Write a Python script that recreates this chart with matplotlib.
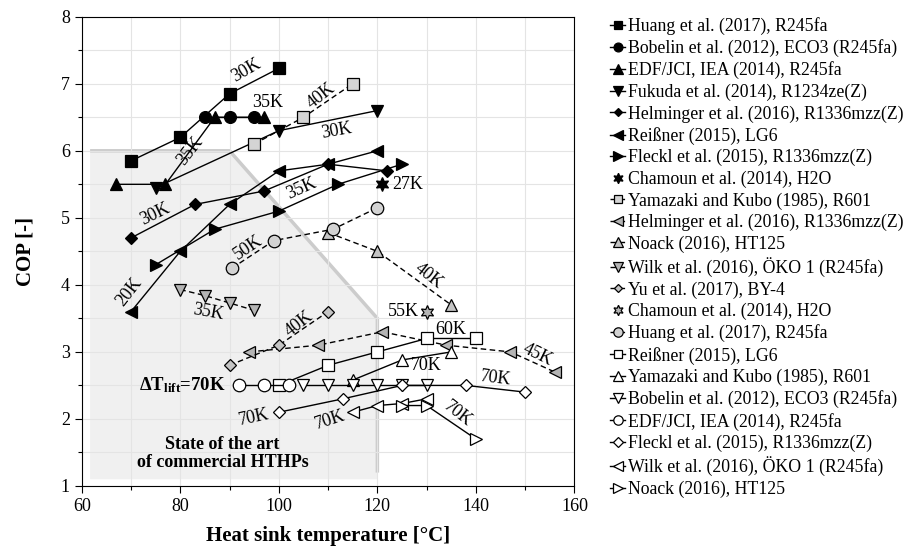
import matplotlib
matplotlib.use("Agg")
import matplotlib.pyplot as plt

# ---------------- data ----------------
# filled black series (solid lines)
huang_x = [70, 80, 90, 100];            huang_y = [5.85, 6.2, 6.85, 7.23]
bobelin_x = [85, 90, 95];               bobelin_y = [6.5, 6.5, 6.5]
edf_x = [67, 77, 87, 97];               edf_y = [5.5, 5.5, 6.5, 6.5]
fukuda_x = [75, 100, 120];              fukuda_y = [5.45, 6.3, 6.6]
helm_x = [70, 83, 97, 110, 122];        helm_y = [4.7, 5.2, 5.4, 5.8, 5.7]
reiss_x = [70, 80, 90, 100, 110, 120];  reiss_y = [3.6, 4.5, 5.2, 5.7, 5.8, 6.0]
fleckl_x = [75, 87, 100, 112, 125];     fleckl_y = [4.3, 4.83, 5.1, 5.5, 5.8]
chamoun_x = [121];                      chamoun_y = [5.5]
# gray series (dashed lines)
yama_g_x = [95, 105, 115];              yama_g_y = [6.1, 6.5, 7.0]
helm_g_x = [94, 108, 121, 134, 147, 156]; helm_g_y = [3.0, 3.1, 3.3, 3.1, 3.0, 2.7]
noack_g_x = [110, 120, 135];            noack_g_y = [4.78, 4.5, 3.7]
wilk_g_x = [80, 85, 90, 95];            wilk_g_y = [3.93, 3.84, 3.73, 3.62]
yu_g_x = [90, 100, 110];                yu_g_y = [2.8, 3.1, 3.6]
chamoun_g_x = [130];                    chamoun_g_y = [3.6]
huang_g_x = [90.5, 99, 111, 120];       huang_g_y = [4.25, 4.66, 4.83, 5.15]
# white series (solid lines, dT_lift = 70K)
reiss_w_x = [100, 110, 120, 130, 140];  reiss_w_y = [2.5, 2.8, 3.0, 3.2, 3.2]
yama_w_x = [115, 125, 135];             yama_w_y = [2.58, 2.88, 3.0]
bobelin_w_x = [105, 110, 115, 120, 125, 130]; bobelin_w_y = [2.5, 2.5, 2.5, 2.5, 2.5, 2.5]
edf_w_x = [92, 97, 102];                edf_w_y = [2.5, 2.5, 2.5]
fleckl_w_x = [100, 113, 125, 138, 150]; fleckl_w_y = [2.1, 2.3, 2.5, 2.5, 2.4]
wilk_w_x = [115, 120, 125, 130];        wilk_w_y = [2.1, 2.2, 2.23, 2.3]
noack_w_x = [125, 130, 140];            noack_w_y = [2.2, 2.2, 1.7]

labels = [
    "Huang et al. (2017), R245fa",
    "Bobelin et al. (2012), ECO3 (R245fa)",
    "EDF/JCI, IEA (2014), R245fa",
    "Fukuda et al. (2014), R1234ze(Z)",
    "Helminger et al. (2016), R1336mzz(Z)",
    "Reißner (2015), LG6",
    "Fleckl et al. (2015), R1336mzz(Z)",
    "Chamoun et al. (2014), H2O",
    "Yamazaki and Kubo (1985), R601",
    "Helminger et al. (2016), R1336mzz(Z)",
    "Noack (2016), HT125",
    "Wilk et al. (2016), ÖKO 1 (R245fa)",
    "Yu et al. (2017), BY-4",
    "Chamoun et al. (2014), H2O",
    "Huang et al. (2017), R245fa",
    "Reißner (2015), LG6",
    "Yamazaki and Kubo (1985), R601",
    "Bobelin et al. (2012), ECO3 (R245fa)",
    "EDF/JCI, IEA (2014), R245fa",
    "Fleckl et al. (2015), R1336mzz(Z)",
    "Wilk et al. (2016), ÖKO 1 (R245fa)",
    "Noack (2016), HT125",
]

# temperature-lift annotations: text, x, y, rotation
lift_labels = [
    ("30K", 93.3, 7.2, 30), ("35K", 97.8, 6.72, 0), ("35K", 82.0, 6.0, 52),
    ("40K", 108.5, 6.82, 38), ("30K", 111.7, 6.3, 10), ("30K", 74.8, 5.06, 26),
    ("20K", 69.6, 3.9, 52), ("35K", 104.6, 5.43, 24), ("27K", 126.2, 5.5, 0),
    ("50K", 93.8, 4.56, 34), ("35K", 85.7, 3.59, -10), ("40K", 104.1, 3.42, 38),
    ("40K", 130.4, 4.13, -38), ("55K", 125.2, 3.6, 0), ("60K", 134.9, 3.34, 0),
    ("45K", 152.6, 2.96, -26), ("70K", 129.9, 2.8, 0), ("70K", 144.1, 2.6, -7),
    ("70K", 136.4, 2.08, -38), ("70K", 95.0, 2.03, 12), ("70K", 110.5, 1.99, 18),
]

# ---------------- style ----------------
plt.rcParams['font.family'] = ['Liberation Serif', 'DejaVu Serif']
plt.rcParams['mathtext.fontset'] = 'custom'
plt.rcParams['mathtext.rm'] = 'Liberation Serif'
plt.rcParams['mathtext.bf'] = 'Liberation Serif:bold'
plt.rcParams['mathtext.it'] = 'Liberation Serif:italic'

fig = plt.figure(figsize=(9.11, 5.5), dpi=100)
ax = fig.add_axes([0.0897, 0.1164, 0.5409, 0.8532])

GRAY = '#c4c4c4'
DGRAY = '#b4b4b4'
lw = 1.0
dash = (0, (4, 2.5))

series = [
    (huang_x, huang_y, 's', 'black', '-', 8),
    (bobelin_x, bobelin_y, 'o', 'black', '-', 8.5),
    (edf_x, edf_y, '^', 'black', '-', 9),
    (fukuda_x, fukuda_y, 'v', 'black', '-', 9),
    (helm_x, helm_y, 'D', 'black', '-', 6),
    (reiss_x, reiss_y, '<', 'black', '-', 9),
    (fleckl_x, fleckl_y, '>', 'black', '-', 9),
    (chamoun_x, chamoun_y, (6, 1, 0), 'black', 'none', 10),
    (yama_g_x, yama_g_y, 's', '#d4d4d4', dash, 8.5),
    (helm_g_x, helm_g_y, '<', DGRAY, dash, 9),
    (noack_g_x, noack_g_y, '^', GRAY, dash, 9),
    (wilk_g_x, wilk_g_y, 'v', DGRAY, dash, 9),
    (yu_g_x, yu_g_y, 'D', GRAY, dash, 6),
    (chamoun_g_x, chamoun_g_y, (6, 1, 0), DGRAY, 'none', 10),
    (huang_g_x, huang_g_y, 'o', '#d2d2d2', dash, 9),
    (reiss_w_x, reiss_w_y, 's', 'white', '-', 8.5),
    (yama_w_x, yama_w_y, '^', 'white', '-', 9),
    (bobelin_w_x, bobelin_w_y, 'v', 'white', '-', 9),
    (edf_w_x, edf_w_y, 'o', 'white', '-', 9),
    (fleckl_w_x, fleckl_w_y, 'D', 'white', '-', 6.5),
    (wilk_w_x, wilk_w_y, '<', 'white', '-', 9),
    (noack_w_x, noack_w_y, '>', 'white', '-', 9),
]

# shaded "state of the art" region
ax.fill([61.7, 61.7, 90, 120, 120], [1.1, 6.0, 6.0, 3.5, 1.1],
        color='#f0f0f0', lw=0, zorder=0.2)
ax.plot([61.7, 90, 120, 120], [6.0, 6.0, 3.5, 1.2], color='#cccccc', lw=2.5,
        solid_capstyle='butt', zorder=0.3)
ax.text(88.6, 1.48, "State of the art\nof commercial HTHPs", ha='center',
        va='center', fontsize=13, fontweight='bold', linespacing=1.05, zorder=3)

handles = []
for (xs, ys, m, fc, ls, ms), lab in zip(series, labels):
    h, = ax.plot(xs, ys, marker=m, markersize=ms, markerfacecolor=fc,
                 markeredgecolor='black', markeredgewidth=0.9, color='black',
                 linestyle=ls, lw=lw, label=lab, zorder=4)
    handles.append(h)

for t, x, y, r in lift_labels:
    ax.text(x, y, t, fontsize=13, rotation=r, rotation_mode='anchor',
            ha='center', va='center', zorder=5)

ax.text(89.2, 2.5, r'ΔT$_{\mathbf{lift}}$=70K', fontsize=13.5, fontweight='bold',
        ha='right', va='center', zorder=5)

ax.set_xlim(60, 160)
ax.set_ylim(1, 8)
ax.set_xticks([60, 80, 100, 120, 140, 160])
ax.set_xticks(range(70, 160, 20), minor=True)
ax.set_yticks(range(1, 9))
ax.set_yticks([1.5 + i for i in range(7)], minor=True)
ax.grid(True, which='both', color='#e4e4e4', lw=0.8)
ax.set_axisbelow(True)
ax.tick_params(which='major', direction='out', length=5, width=0.8, labelsize=13)
ax.tick_params(which='minor', direction='out', length=3, width=0.8)
for s in ax.spines.values():
    s.set_linewidth(0.8)
ax.set_xlabel("Heat sink temperature [°C]", fontsize=15, fontweight='bold', labelpad=8)
ax.set_ylabel("COP [-]", fontsize=15, fontweight='bold', labelpad=18)

leg = fig.legend(handles=handles, loc='upper left', bbox_to_anchor=(0.66, 0.985),
                 frameon=False, fontsize=12.8, handlelength=0.85, handletextpad=0.15,
                 labelspacing=0.24, borderpad=0, markerscale=0.75)

fig.savefig("out.png", dpi=100)
